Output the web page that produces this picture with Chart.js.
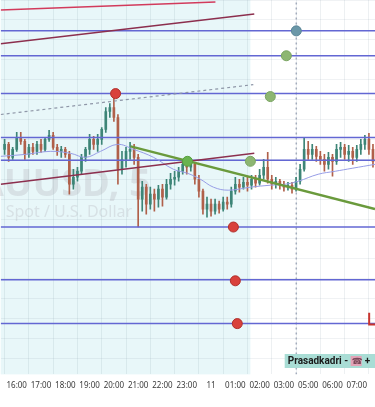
<!DOCTYPE html>
<html>
<head>
<meta charset="utf-8">
<script src="https://cdn.jsdelivr.net/npm/chart.js@4.4.1/dist/chart.umd.min.js"></script>
<style>
html, body { margin: 0; padding: 0; background: #fff; }
#wrap { width: 375px; height: 407px; }
</style>
</head>
<body>
<div id="wrap"><canvas id="chart"></canvas></div>
<script>
// DATA (x in hour slots: 0 = 16:00, price on the y axis)
const hourLabels = ["16:00", "17:00", "18:00", "19:00", "20:00", "21:00", "22:00", "23:00", "11", "01:00", "02:00", "03:00", "05:00", "06:00", "07:00"];

const open = [2625.0, 2625.5, 2624.2, 2625.0, 2626.2, 2625.8, 2624.5, 2625.2, 2624.8, 2625.5, 2625.0, 2626.0, 2626.4, 2625.2, 2624.8, 2625.0,
  2624.5, 2621.5, 2622.2, 2622.8, 2624.2, 2625.0, 2626.0, 2625.5, 2626.0, 2627.0, 2628.8, 2629.2, 2628.2, 2623.0, 2624.0, 2624.8,
  2625.0, 2624.2, 2620.0, 2621.2, 2619.5, 2620.5, 2620.0, 2621.0, 2620.2, 2621.5, 2622.0, 2622.2, 2622.8, 2623.5, 2623.2, 2623.5,
  2622.0, 2620.8, 2619.0, 2619.5, 2618.8, 2619.5, 2619.0, 2619.7, 2619.5, 2620.8, 2621.5, 2621.2, 2621.7, 2621.4, 2622.0, 2621.6,
  2622.4, 2623.2, 2622.0, 2621.5, 2621.8, 2621.4, 2621.2, 2621.4, 2621.0, 2621.8, 2623.0, 2625.0, 2624.5, 2625.0, 2624.3, 2624.0,
  2623.5, 2624.2, 2623.8, 2625.0, 2625.2, 2624.5, 2624.8, 2624.2, 2625.0, 2625.5, 2626.0, 2625.0];
const high = [2626.0, 2625.7, 2625.2, 2626.7, 2626.7, 2626.0, 2625.5, 2625.6, 2625.8, 2626.0, 2626.2, 2626.9, 2626.7, 2625.5, 2625.3, 2625.2,
  2624.8, 2623.0, 2623.2, 2624.5, 2625.2, 2626.5, 2626.3, 2626.5, 2627.2, 2629.2, 2629.6, 2630.2, 2628.5, 2624.8, 2625.2, 2625.7,
  2625.5, 2624.5, 2621.8, 2621.5, 2621.2, 2621.0, 2621.4, 2621.5, 2622.0, 2622.6, 2622.8, 2623.2, 2624.0, 2624.0, 2624.0, 2623.7,
  2622.4, 2621.0, 2620.2, 2620.0, 2620.0, 2619.8, 2620.2, 2620.2, 2621.2, 2622.2, 2622.0, 2622.2, 2622.2, 2622.4, 2622.4, 2623.0,
  2624.0, 2624.7, 2622.4, 2622.2, 2622.0, 2621.8, 2621.7, 2621.7, 2622.2, 2623.5, 2626.2, 2625.8, 2625.5, 2625.3, 2624.8, 2624.5,
  2624.7, 2624.5, 2625.5, 2625.7, 2625.5, 2625.4, 2625.2, 2625.4, 2626.0, 2626.4, 2626.6, 2625.5];
const low = [2624.5, 2623.8, 2624.0, 2624.8, 2625.5, 2624.0, 2624.2, 2624.5, 2624.5, 2624.7, 2624.8, 2625.8, 2625.0, 2624.4, 2624.2, 2624.2,
  2620.5, 2621.0, 2621.8, 2622.5, 2623.8, 2624.5, 2625.0, 2624.8, 2625.5, 2626.7, 2628.2, 2627.8, 2621.5, 2622.5, 2623.2, 2624.0,
  2623.5, 2617.2, 2618.8, 2618.5, 2619.0, 2618.8, 2619.2, 2619.3, 2620.0, 2621.0, 2621.4, 2621.8, 2622.5, 2622.5, 2622.8, 2621.5,
  2620.2, 2618.5, 2618.2, 2618.3, 2618.5, 2618.6, 2618.8, 2619.0, 2619.2, 2620.5, 2620.7, 2621.0, 2620.8, 2621.0, 2621.2, 2621.4,
  2622.0, 2621.6, 2621.0, 2621.1, 2621.0, 2620.8, 2620.9, 2620.6, 2620.8, 2621.5, 2622.8, 2624.0, 2624.0, 2623.8, 2623.5, 2622.8,
  2623.0, 2622.3, 2623.5, 2624.2, 2624.0, 2623.8, 2623.5, 2623.8, 2624.5, 2625.0, 2624.5, 2623.2];
const close = [2625.5, 2624.2, 2625.0, 2626.2, 2625.8, 2624.5, 2625.2, 2624.8, 2625.5, 2625.0, 2626.0, 2626.4, 2625.2, 2624.8, 2625.0, 2624.5,
  2621.5, 2622.2, 2622.8, 2624.2, 2625.0, 2626.0, 2625.5, 2626.0, 2627.0, 2628.8, 2629.2, 2628.2, 2623.0, 2624.0, 2624.8, 2625.0,
  2624.2, 2620.0, 2621.2, 2619.5, 2620.5, 2620.0, 2621.0, 2620.2, 2621.5, 2622.0, 2622.2, 2622.8, 2623.5, 2623.2, 2623.5, 2622.0,
  2620.8, 2619.0, 2619.5, 2618.8, 2619.5, 2619.0, 2619.7, 2619.5, 2620.8, 2621.5, 2621.2, 2621.7, 2621.4, 2622.0, 2621.6, 2622.4,
  2623.2, 2622.0, 2621.5, 2621.8, 2621.4, 2621.2, 2621.4, 2621.0, 2621.8, 2623.0, 2625.0, 2624.5, 2625.0, 2624.3, 2624.0, 2623.5,
  2624.2, 2623.8, 2625.0, 2625.2, 2624.5, 2624.8, 2624.2, 2625.0, 2625.5, 2626.0, 2625.0, 2623.8];

const maTime = [-0.66, 0.37, 1.40, 2.22, 2.84, 3.45, 4.15, 4.81, 5.63, 6.45, 7.03, 7.56, 8.10, 8.71, 9.62, 10.44, 11.06, 11.59, 12.41, 13.11, 13.81, 14.76];
const maValue = [2624.3, 2624.5, 2624.8, 2624.6, 2624.2, 2624.8, 2625.5, 2625.0, 2624.2, 2623.0, 2622.6, 2622.0, 2621.2, 2620.9, 2621.2, 2621.4, 2621.5, 2621.8, 2622.5, 2622.8, 2623.1, 2623.5];

const levels = [2636.9, 2634.4, 2630.6, 2626.2, 2623.9, 2617.2, 2611.9, 2607.5];

const redTrend = [[-0.66, 2639.0], [8.18, 2639.8]];
const maroonTrendTop = [[-0.66, 2635.6], [9.78, 2638.6]];
const dottedTrend = [[-0.66, 2628.5], [9.74, 2631.5]];
const maroonTrendLow = [[-0.66, 2621.5], [9.78, 2624.6]];
const greenTrend = [[4.69, 2625.3], [14.75, 2619.0]];
const redMark = [[14.51, 2608.6], [14.51, 2607.4], [14.75, 2607.4]];

const redDots = [[4.07, 2630.6], [8.92, 2617.2], [9.00, 2611.8], [9.08, 2607.5]];
const greenDots = [[10.44, 2630.3], [11.10, 2634.4], [9.62, 2623.8]];
const brightDots = [[7.03, 2623.8]];
const blueDots = [[11.51, 2636.9]];

const sessionBreak = 11.51;
const shadeEnd = 9.62;
const xMin = -0.66, xMax = 14.75;
const yMin = 2602.4, yMax = 2640.0;

// HELPERS
const candleX = (i) => -0.5 + i / 6;
const pts = (arr) => arr.map(([x, y]) => ({ x, y }));
const UP = "#3d8577", DOWN = "#b0604a";
const candleColor = (ctx) => close[ctx.dataIndex] >= open[ctx.dataIndex] ? UP : DOWN;

const lineSet = (data, color, width, extra = {}) => ({
  type: "line", data: pts(data), borderColor: color, borderWidth: width,
  pointRadius: 0, fill: false, tension: 0, ...extra,
});
const dotSet = (data, color, edge) => ({
  type: "line", data: pts(data), showLine: false, pointRadius: 5, pointHoverRadius: 5,
  pointBackgroundColor: color, pointBorderColor: edge, pointBorderWidth: 1, order: 0,
});

const shadePlugin = {
  id: "shade",
  beforeDraw(chart) {
    const { ctx, chartArea: a, scales } = chart;
    ctx.save();
    ctx.fillStyle = "#ffffff";
    ctx.fillRect(0, 0, chart.width, chart.height);
    ctx.fillStyle = "#e8f7f9";
    const xe = scales.x.getPixelForValue(shadeEnd);
    ctx.fillRect(a.left, a.top, xe - a.left, a.bottom - a.top);
    ctx.restore();
  },
};

const watermarkPlugin = {
  id: "watermark",
  beforeDatasetsDraw(chart) {
    const { ctx, chartArea: a } = chart;
    ctx.save();
    ctx.fillStyle = "rgba(150, 140, 150, 0.2)";
    ctx.font = "bold 38px 'Noto Sans', sans-serif";
    const lead = ctx.measureText("XA").width;
    ctx.fillText("XAUUSD, 5", a.left + 3 - lead, a.top + 196);
    ctx.font = "16px 'Noto Sans', sans-serif";
    ctx.fillText("Spot / U.S. Dollar", a.left + 5, a.top + 217);
    ctx.restore();
  },
};

const tagPlugin = {
  id: "tag",
  afterDraw(chart) {
    const { ctx, chartArea: a } = chart;
    const x0 = a.left + 284, top = a.top + 354, h = 14;
    ctx.save();
    ctx.fillStyle = "#a9ddd5";
    ctx.fillRect(x0, top, a.right - x0, h);
    ctx.font = "bold 10px Roboto, sans-serif";
    ctx.textBaseline = "middle";
    ctx.fillStyle = "#1b1b1b";
    const t1 = "Prasadkadri - ";
    ctx.fillText(t1, x0 + 3, top + h / 2 + 0.5);
    const px = x0 + 3 + ctx.measureText(t1).width;
    ctx.fillStyle = "#e3a3b7";
    ctx.fillRect(px, top + 2, 11, h - 4);
    ctx.fillStyle = "#7a4a5a";
    ctx.font = "9px 'DejaVu Sans', sans-serif";
    ctx.fillText("☎", px + 1, top + h / 2 + 0.5);
    ctx.fillStyle = "#1b1b1b";
    ctx.font = "bold 10px Roboto, sans-serif";
    ctx.fillText("+", px + 14, top + h / 2 + 0.5);
    ctx.restore();
  },
};

const ctx = document.getElementById("chart").getContext("2d");
new Chart(ctx, {
  type: "bar",
  data: {
    datasets: [
      dotSet(redDots, "#d9413b", "#b0302c"),
      dotSet(greenDots, "#8db672", "#7aa562"),
      dotSet(brightDots, "#69b34f", "#58a040"),
      dotSet(blueDots, "#6a97a8", "#5a8698"),
      lineSet(greenTrend, "#6a9a3c", 2.5, { order: 1 }),
      lineSet(redTrend, "#d23a5c", 1.5, { order: 1 }),
      lineSet(maroonTrendTop, "#8c2f4e", 1.5, { order: 1 }),
      lineSet(maroonTrendLow, "#8c2f4e", 1.5, { order: 1 }),
      lineSet(dottedTrend, "#8f97a8", 1.2, { order: 1, borderDash: [3, 3] }),
      lineSet(redMark, "#c8342e", 2, { order: 1 }),
      lineSet(maTime.map((t, i) => [t, maValue[i]]), "#979de6", 1, { order: 2, tension: 0.4 }),
      ...levels.map((v) => lineSet([[xMin, v], [xMax, v]], "#6367d3", 1.5, { order: 3 })),
      {
        type: "bar",
        data: open.map((o, i) => ({ x: candleX(i), y: [Math.min(o, close[i]), Math.max(o, close[i])] })),
        backgroundColor: candleColor,
        barThickness: 2,
        grouped: false,
        order: 4,
      },
      {
        type: "bar",
        data: low.map((l, i) => ({ x: candleX(i), y: [l, high[i]] })),
        backgroundColor: candleColor,
        barThickness: 1,
        grouped: false,
        order: 5,
      },
      lineSet([[sessionBreak, yMin], [sessionBreak, yMax]], "#a3abbb", 1.5, { order: 6, borderDash: [2, 3] }),
    ],
  },
  options: {
    responsive: true,
    maintainAspectRatio: false,
    animation: false,
    layout: { autoPadding: false, padding: { left: 0, right: 0, top: 0, bottom: 10 } },
    plugins: { legend: { display: false }, tooltip: { enabled: false } },
    scales: {
      x: {
        type: "linear",
        min: xMin,
        max: xMax,
        offset: false,
        afterBuildTicks: (scale) => { scale.ticks = hourLabels.map((_, i) => ({ value: i })); },
        ticks: {
          callback: (v) => hourLabels[v],
          autoSkip: false,
          maxRotation: 0,
          padding: 6.5,
          color: "#3a3a3a",
          font: { size: 8, family: "'Noto Sans', sans-serif" },
        },
        grid: { color: "rgba(110, 130, 150, 0.12)", drawTicks: false },
        border: { display: false },
      },
      y: {
        min: yMin,
        max: yMax,
        ticks: { display: false, stepSize: 2, includeBounds: false },
        grid: { color: "rgba(110, 130, 150, 0.10)", drawTicks: false },
        border: { display: false },
      },
    },
  },
  plugins: [shadePlugin, watermarkPlugin, tagPlugin],
});
</script>
</body>
</html>
